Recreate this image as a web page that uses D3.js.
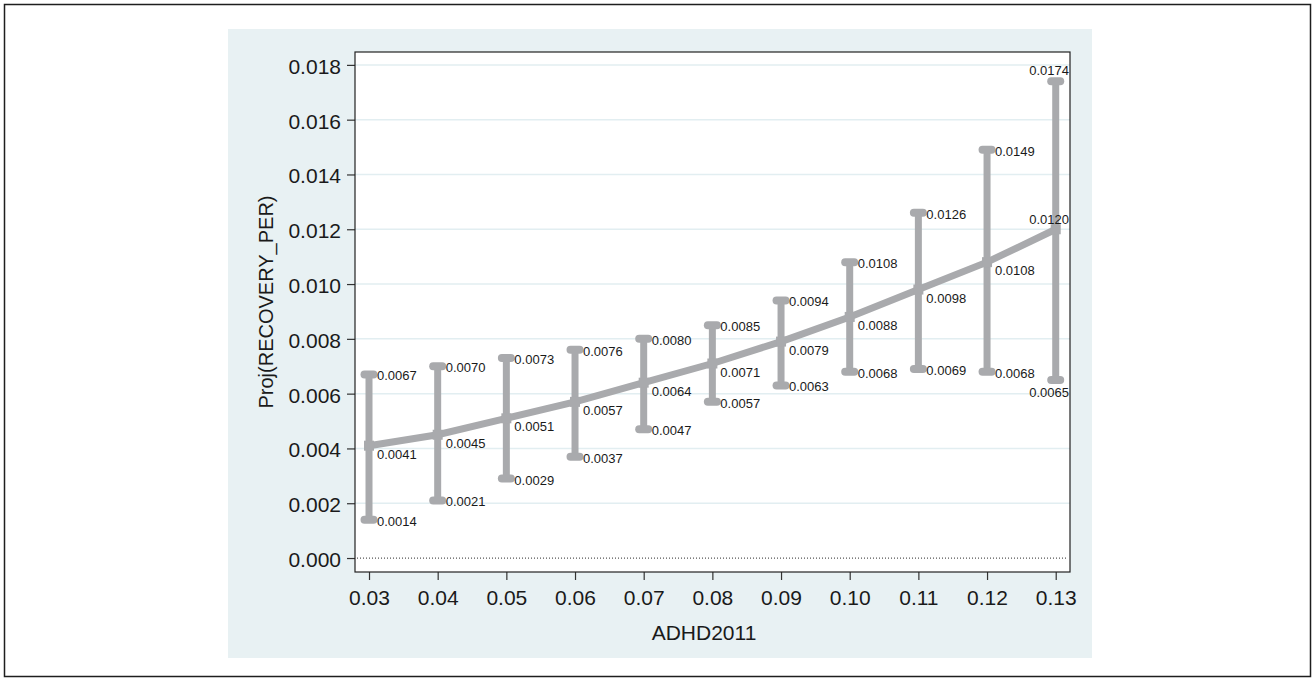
<!DOCTYPE html>
<html>
<head>
<meta charset="utf-8">
<script src="https://cdn.jsdelivr.net/npm/d3@7"></script>
<style>
  body { margin: 0; background: #fff; }
  text { font-family: Arial, "Liberation Sans", Helvetica, sans-serif; fill: #1a1a1a; }
</style>
</head>
<body>
<div id="chart"></div>
<script>
// Data
var xValues = [0.03, 0.04, 0.05, 0.06, 0.07, 0.08, 0.09, 0.10, 0.11, 0.12, 0.13];
var estValues = [0.0041, 0.0045, 0.0051, 0.0057, 0.0064, 0.0071, 0.0079, 0.0088, 0.0098, 0.0108, 0.0120];
var upperValues = [0.0067, 0.0070, 0.0073, 0.0076, 0.0080, 0.0085, 0.0094, 0.0108, 0.0126, 0.0149, 0.0174];
var lowerValues = [0.0014, 0.0021, 0.0029, 0.0037, 0.0047, 0.0057, 0.0063, 0.0068, 0.0069, 0.0068, 0.0065];
var yTicks = [0, 0.002, 0.004, 0.006, 0.008, 0.010, 0.012, 0.014, 0.016, 0.018];
var xTicks = [0.03, 0.04, 0.05, 0.06, 0.07, 0.08, 0.09, 0.10, 0.11, 0.12, 0.13];

var svgWidth = 1315, svgHeight = 681;
var plot = { left: 355, top: 52, right: 1070, bottom: 572 };
var gray = "#a9aaad";

var svg = d3.select("#chart").append("svg")
    .attr("width", svgWidth).attr("height", svgHeight);

// outer frame and panel background
svg.append("rect").attr("x", 4.5).attr("y", 4.5).attr("width", 1306).attr("height", 672)
    .attr("fill", "#fff").attr("stroke", "#1e1e1e").attr("stroke-width", 1.5);
svg.append("rect").attr("x", 228).attr("y", 29).attr("width", 864).attr("height", 629)
    .attr("fill", "#e8f1f3");
svg.append("rect").attr("x", plot.left).attr("y", plot.top)
    .attr("width", plot.right - plot.left).attr("height", plot.bottom - plot.top)
    .attr("fill", "#fff");

// Scales
var x = d3.scaleLinear().domain([0.02796, 0.13208]).range([plot.left, plot.right]);
var y = d3.scaleLinear().domain([-0.00051, 0.01847]).range([plot.bottom, plot.top]);

// Gridlines
svg.append("g").selectAll("line").data(yTicks.filter(function(d) { return d > 0; }))
    .enter().append("line")
    .attr("x1", plot.left).attr("x2", plot.right)
    .attr("y1", function(d) { return y(d); }).attr("y2", function(d) { return y(d); })
    .attr("stroke", "#e2eef1").attr("stroke-width", 1.5);

// zero line (dotted)
svg.append("line")
    .attr("x1", plot.left + 2).attr("x2", plot.right - 2)
    .attr("y1", y(0)).attr("y2", y(0))
    .attr("stroke", "#555").attr("stroke-width", 1.3).attr("stroke-dasharray", "1,2");

// Axes
var yAxis = svg.append("g").attr("transform", "translate(" + plot.left + ",0)")
    .call(d3.axisLeft(y).tickValues(yTicks).tickFormat(d3.format(".3f")).tickSize(8).tickSizeOuter(0));
var xAxis = svg.append("g").attr("transform", "translate(0," + plot.bottom + ")")
    .call(d3.axisBottom(x).tickValues(xTicks).tickFormat(d3.format(".2f")).tickSize(8).tickSizeOuter(0));

[xAxis, yAxis].forEach(function(a) {
    a.select(".domain").remove();
    a.selectAll(".tick line").attr("stroke", "#333").attr("stroke-width", 1.2);
    a.selectAll(".tick text").attr("fill", "#1a1a1a")
        .style("font-size", "21px").style("font-family", "Arial, 'Liberation Sans', sans-serif");
});
yAxis.selectAll(".tick text").attr("x", -14).attr("dy", "0.4em");
xAxis.selectAll(".tick text").attr("y", 33).attr("dy", 0);

// plot border
svg.append("rect").attr("x", plot.left).attr("y", plot.top)
    .attr("width", plot.right - plot.left).attr("height", plot.bottom - plot.top)
    .attr("fill", "none").attr("stroke", "#222").attr("stroke-width", 1.2);

// Axis titles
svg.append("text").attr("x", 704).attr("y", 640).attr("text-anchor", "middle")
    .style("font-size", "21px").text("ADHD2011");
svg.append("text").attr("transform", "translate(273,302) rotate(-90)")
    .attr("text-anchor", "middle").style("font-size", "20px").text("Proj(RECOVERY_PER)");

// Rows for marks
var rows = xValues.map(function(v, i) {
    return { x: v, est: estValues[i], hi: upperValues[i], lo: lowerValues[i], last: i === xValues.length - 1 };
});

var marks = svg.append("g");

// vertical error bars
marks.selectAll(".bar").data(rows).enter().append("line")
    .attr("x1", function(d) { return x(d.x); }).attr("x2", function(d) { return x(d.x); })
    .attr("y1", function(d) { return y(d.lo); }).attr("y2", function(d) { return y(d.hi); })
    .attr("stroke", gray).attr("stroke-width", 7);

// caps
["hi", "lo"].forEach(function(k) {
    marks.selectAll(".cap-" + k).data(rows).enter().append("line")
        .attr("x1", function(d) { return x(d.x) - 4.5; }).attr("x2", function(d) { return x(d.x) + 4.5; })
        .attr("y1", function(d) { return y(d[k]); }).attr("y2", function(d) { return y(d[k]); })
        .attr("stroke", gray).attr("stroke-width", 8).attr("stroke-linecap", "round");
});

// connecting line
var line = d3.line().x(function(d) { return x(d.x); }).y(function(d) { return y(d.est); });
marks.append("path").datum(rows).attr("d", line)
    .attr("fill", "none").attr("stroke", gray).attr("stroke-width", 7);

// square markers
marks.selectAll(".pt").data(rows).enter().append("rect")
    .attr("x", function(d) { return x(d.x) - 5; }).attr("y", function(d) { return y(d.est) - 5; })
    .attr("width", 10).attr("height", 10).attr("fill", gray);

// Value labels
var labels = svg.append("g").style("font-size", "13px");
var fmt = d3.format(".4f");

function addLabels(key, dyNormal, dyLast) {
    labels.selectAll(".lab-" + key).data(rows).enter().append("text")
        .attr("x", function(d) { return d.last ? plot.right - 1 : x(d.x) + 8; })
        .attr("y", function(d) { return y(d[key]) + (d.last ? dyLast : dyNormal); })
        .attr("text-anchor", function(d) { return d.last ? "end" : "start"; })
        .text(function(d) { return fmt(d[key]); });
}
addLabels("hi", 6, -6);
addLabels("est", 13, -5);
addLabels("lo", 6, 17);
</script>
</body>
</html>
